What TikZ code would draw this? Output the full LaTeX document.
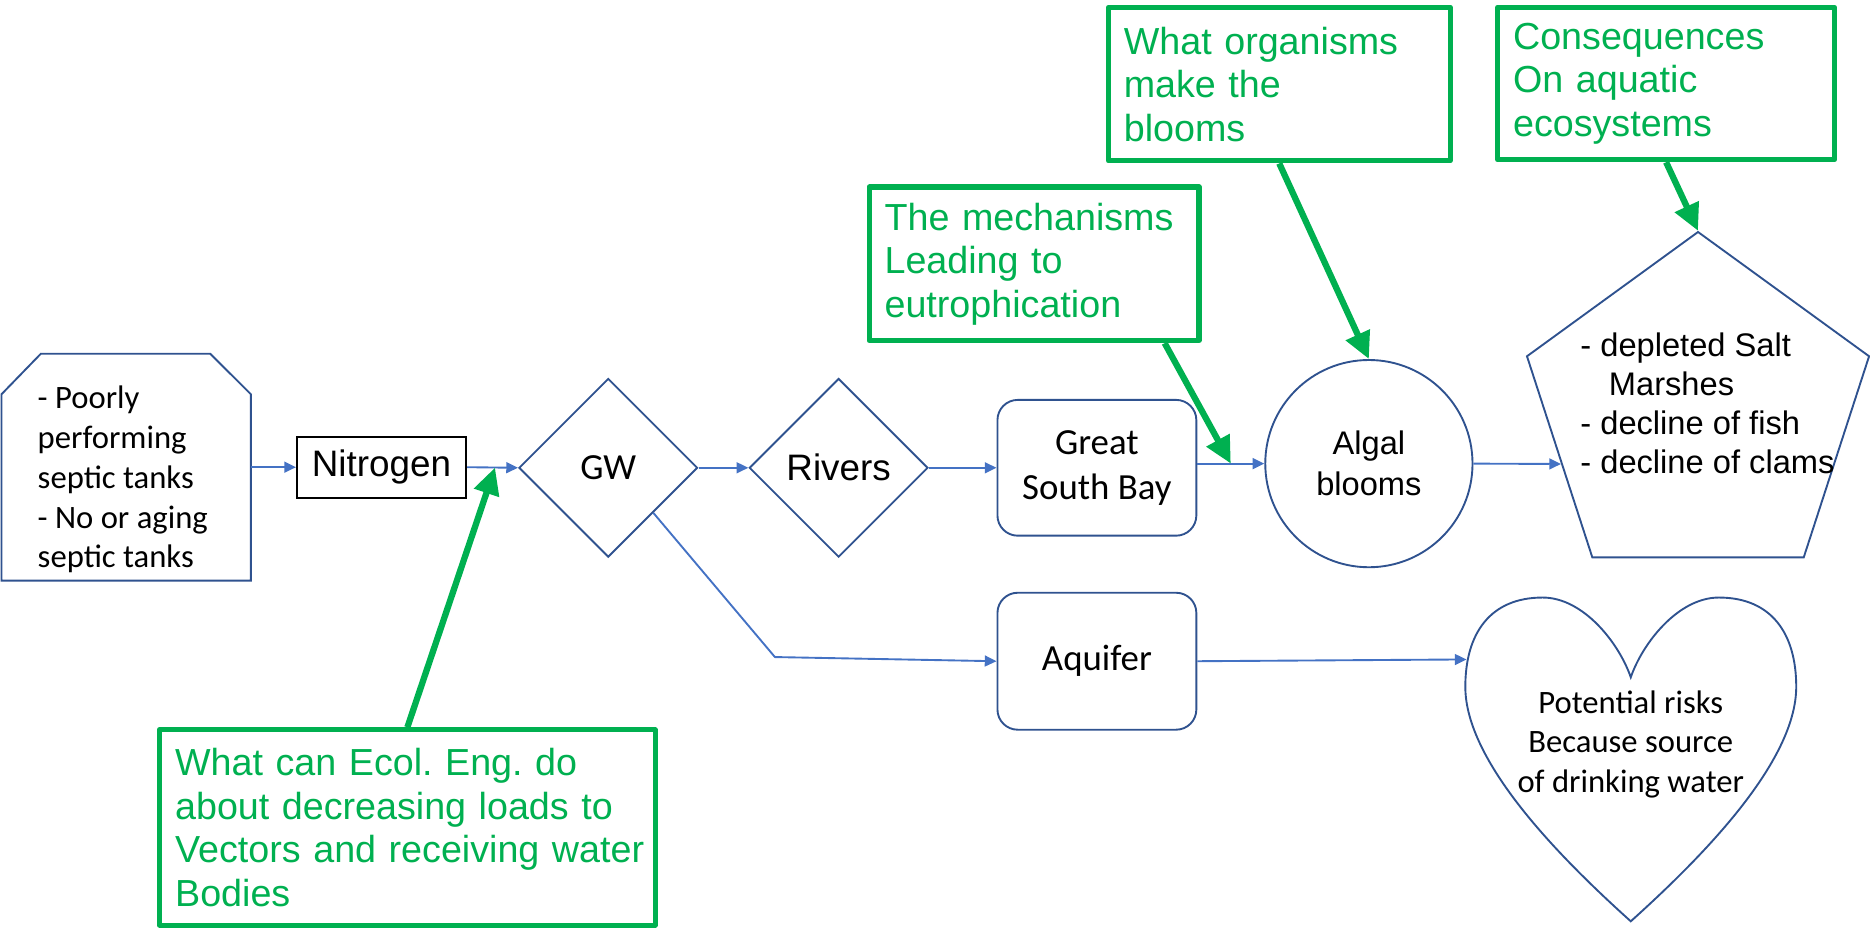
\documentclass[tikz,border=0pt]{standalone}
\usepackage{fontspec}
\setmainfont{Carlito}
\newfontfamily\arialfont{Liberation Sans}
\usepackage{xcolor}
\usepackage{tikz}
\usetikzlibrary{shapes.geometric,arrows.meta,calc,positioning}

\definecolor{shapeblue}{HTML}{2F528F}
\definecolor{linkblue}{HTML}{4472C4}
\definecolor{notegreen}{HTML}{00B050}

\tikzset{
  flowshape/.style={draw=shapeblue, line width=0.45pt, inner sep=0pt},
  flowlink/.style={draw=linkblue, line width=0.45pt, -{Triangle[length=2.8pt,width=2.6pt]}},
  notebox/.style={draw=notegreen, line width=1.2pt, text=notegreen, anchor=north west, align=left,
                  inner xsep=0.13cm, inner ysep=0pt, line join=round,
                  font=\arialfont\fontsize{9}{10.4}\selectfont\frenchspacing},
  notearrow/.style={draw=notegreen, line width=1.5pt, -{Triangle[length=6.4pt,width=6pt]}},
  calsmall/.style={font=\fontsize{7.8}{9.5}\selectfont},
  calbig/.style={font=\fontsize{8.8}{10.8}\selectfont},
  arsmall/.style={font=\arialfont\fontsize{7.8}{9.3}\selectfont},
  arbig/.style={font=\arialfont\fontsize{8.8}{10.6}\selectfont},
}

\begin{document}
\begin{tikzpicture}[x=0.01cm, y=-0.01cm]
            \useasboundingbox (0,0) rectangle (1571,789);

            \node[inner sep=0pt, minimum width=2.08cm, minimum height=1.89cm] (septic) at (106,392.5) {};
            \draw[shapeblue, line width=0.45pt] (septic.south west) -- ([yshift=-0.34cm]septic.north west)
                -- ([xshift=0.33cm]septic.north west) -- ([xshift=-0.34cm]septic.north east)
                -- ([yshift=-0.34cm]septic.north east) -- (septic.south east) -- cycle;
            \node[calsmall, anchor=base west, align=left, inner sep=0pt] (septictxt) at (31,477)
                {- Poorly\\performing\\septic tanks\\- No or aging\\septic tanks};

            \node[draw=black, line width=0.45pt, inner sep=0pt, arbig, minimum width=1.42cm, minimum height=0.51cm] (nitrogen) at (320.5,392.5) {Nitrogen};
            \node[flowshape, diamond, calbig, minimum width=1.5cm, minimum height=1.5cm] (gw) at (511,393) {GW};
            \node[flowshape, diamond, arbig, minimum width=1.5cm, minimum height=1.5cm] (rivers) at (704.5,393) {Rivers};
            \node[flowshape, rectangle, rounded corners=0.17cm, calbig, align=center, minimum width=1.67cm, minimum height=1.14cm] (gsb) at (921.5,393) {Great\\South Bay};
            \node[flowshape, rectangle, rounded corners=0.17cm, calbig, minimum width=1.67cm, minimum height=1.15cm] (aquifer) at (921.5,555.5) {Aquifer};
            \node[flowshape, circle, align=center, minimum size=1.74cm, font=\arialfont\fontsize{7.8}{9.7}\selectfont] (algal) at (1150,389.5) {Algal\\blooms};
            \node[flowshape, regular polygon, regular polygon sides=5, minimum size=3.02cm] (effects) at (1426.5,346) {};
            \node[arsmall, anchor=base west, align=left, inner sep=0pt] (effectstxt) at (1327,398)
                {- depleted Salt\\\hspace*{6.8pt}Marshes\\- decline of fish\\- decline of clams};

            \draw[shapeblue, line width=0.45pt] (1370,569) .. controls (1360,540) and (1330,502) .. (1296,502)
                .. controls (1252,502) and (1231,532) .. (1231,577)
                .. controls (1231,640) and (1310,720) .. (1370,774)
                .. controls (1430,720) and (1509,640) .. (1509,577)
                .. controls (1509,532) and (1488,502) .. (1444,502)
                .. controls (1410,502) and (1380,540) .. cycle;
            \node[calsmall, anchor=base, align=center, inner sep=0pt] (risks) at (1370,666)
                {Potential risks\\Because source\\of drinking water};
            \coordinate (heartL) at (1232,554);
            \coordinate (bend) at (651,552);

            \draw[flowlink] (septic.east) -- (nitrogen.west);
            \draw[flowlink] (nitrogen.east) -- (gw.west);
            \draw[flowlink] (gw.east) -- (rivers.west);
            \draw[flowlink] (rivers.east) -- (gsb.west);
            \draw[flowlink] (gsb.east |- algal.west) -- (algal.west);
            \draw[flowlink] (algal.east) -- ($(effects.corner 2)!0.534!(effects.corner 3)$);
            \draw[flowlink] (gw.south east) -- (bend) -- (aquifer.west);
            \draw[flowlink] (aquifer.east) -- (heartL);

            \node[notebox, minimum width=4.16cm, minimum height=1.64cm, text width=3.90cm] (ecol) at (132,611)
                {What can Ecol. Eng. do\\about decreasing loads to\\\mbox{Vectors and receiving water}\\Bodies};
            \node[notebox, minimum width=2.77cm, minimum height=1.29cm, text width=2.51cm] (mechs) at (728,155)
                {The mechanisms\\Leading to\\eutrophication};
            \node[notebox, minimum width=2.87cm, minimum height=1.29cm, text width=2.61cm] (orgs) at (929,4)
                {What organisms\\make the\\blooms};
            \node[notebox, minimum width=2.83cm, minimum height=1.28cm, text width=2.57cm] (conseq) at (1256,4)
                {Consequences\\On aquatic\\ecosystems};

            \draw[notearrow] (ecol.north) -- ($(nitrogen.east)!0.55!(gw.west)$);
            \draw[notearrow] ($(mechs.south west)!0.89!(mechs.south east)$) -- ($(gsb.east |- algal.west)!0.5!(algal.west)$);
            \draw[notearrow] (orgs.south) -- (algal.north);
            \draw[notearrow] (conseq.south) -- (effects.corner 1);
        \end{tikzpicture}
\end{document}
